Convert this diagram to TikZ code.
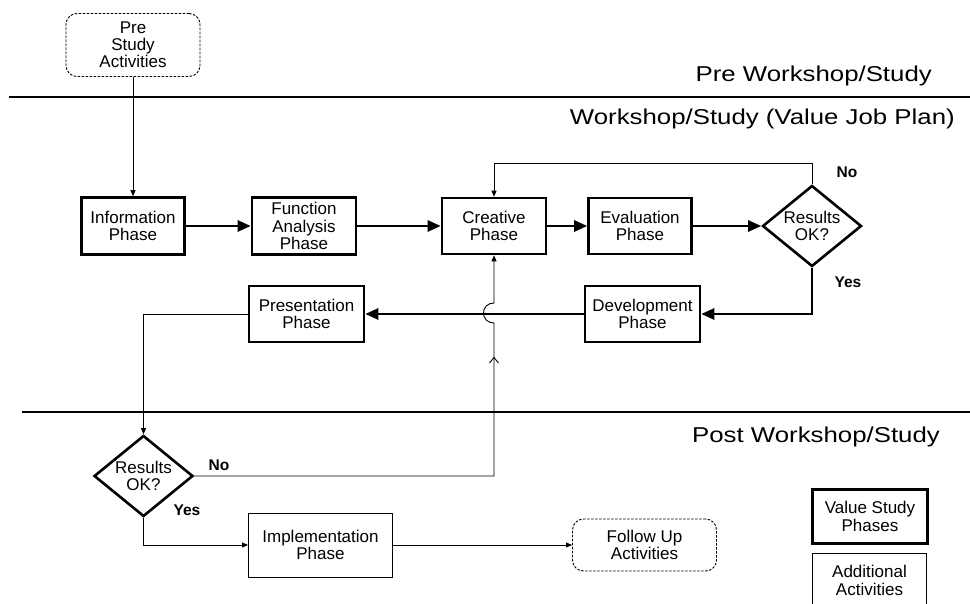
\documentclass[tikz,border=0pt]{standalone}
\usepackage{fontspec}
\setmainfont{Liberation Sans}
\usetikzlibrary{shapes.geometric,arrows.meta}
\begin{document}
\begin{tikzpicture}[x=1pt,y=-1pt,
  every node/.style={font=\fontsize{17}{17.2}\selectfont, align=center, inner sep=0pt},
  phasebox/.style={draw, line width=2.6pt},
  extrabox/.style={draw, line width=0.9pt},
  softbox/.style={draw, line width=0.9pt, dash pattern=on 2.5pt off 1.5pt, rounded corners=11pt},
  decision/.style={draw, line width=2.6pt, diamond, aspect=1.2, minimum width=99pt, minimum height=81pt},
  heading/.style={font=\fontsize{21.5}{26}\selectfont, anchor=base east, xscale=1.2, transform shape},
  answer/.style={font=\fontsize{15.5}{16}\selectfont\bfseries},
  divider/.style={line width=1.4pt},
  bigflow/.style={line width=2.6pt, -{Triangle[length=13pt,width=11pt]}},
  smallflow/.style={line width=0.9pt, -{Triangle[length=6pt,width=5pt]}}]
\useasboundingbox (0,0) rectangle (970,604);

% stage dividers and headings
\draw[divider] (9,97) -- (970,97);
\draw[divider] (22,412) -- (970,412);
\node[heading] (hpre)  at (932,82)  {Pre Workshop/Study};
\node[heading] (hwork) at (955,125) {Workshop/Study (Value Job Plan)};
\node[heading] (hpost) at (940,442) {Post Workshop/Study};

% pre-study
\node[softbox, minimum width=134pt, minimum height=63pt] (pre) at (133,45) {Pre\\Study\\Activities};

% job plan phases
\node[phasebox, minimum width=103pt, minimum height=57pt] (info) at (133,226) {Information\\Phase};
\node[phasebox, minimum width=104pt, minimum height=57pt] (func) at (304,226) {Function\\Analysis\\Phase};
\node[phasebox, minimum width=104pt, minimum height=56pt] (cre)  at (494,226) {Creative\\Phase};
\node[phasebox, minimum width=103pt, minimum height=56pt] (eval) at (640,226) {Evaluation\\Phase};
\node[decision] (d1) at (812,226) {Results\\OK?};
\node[phasebox, minimum width=115pt, minimum height=56pt] (dev)  at (642.5,314) {Development\\Phase};
\node[phasebox, minimum width=115pt, minimum height=56pt] (pres) at (306.5,314) {Presentation\\Phase};

% post-study
\node[decision] (d2) at (143.5,476) {Results\\OK?};
\node[extrabox, minimum width=144pt, minimum height=64pt] (impl) at (320.5,545) {Implementation\\Phase};
\node[softbox, minimum width=144pt, minimum height=52pt] (follow) at (644.5,545) {Follow Up\\Activities};

% key
\node[phasebox, minimum width=115pt, minimum height=54pt] (key1) at (870,516.5) {Value Study\\Phases};
\node[extrabox, minimum width=114pt, minimum height=54pt] (key2) at (869.5,580.5) {Additional\\Activities};

% decision labels
\node[answer] (no1)  at (847,172) {No};
\node[answer] (yes1) at (848,282) {Yes};
\node[answer] (no2)  at (219,465) {No};
\node[answer] (yes2) at (187,510) {Yes};

% flow
\draw[smallflow] (pre.south) -- (info.north);
\draw[bigflow] (info.east) -- (func.west);
\draw[bigflow] (func.east) -- (cre.west);
\draw[bigflow] (cre.east) -- (eval.west);
\draw[bigflow] (eval.east) -- (d1.west);
\draw[smallflow] (d1.north) -- ++(0,-21) -| (cre.north);
\draw[bigflow] (d1.south) |- (dev.east);
\draw[bigflow] (dev.west) -- (pres.east);
\draw[smallflow] (pres.west) -| (d2.north);
\draw[smallflow] (d2.east) -| (cre.south |- 0,323)
  .. controls (480,323) and (480,303) .. (cre.south |- 0,303) -- (cre.south);
\draw[line width=0.9pt] (489.5,363) -- (494,357.5) -- (498.5,363);
\draw[smallflow] (d2.south) |- (impl.west);
\draw[smallflow] (impl.east) -- (follow.west);
\end{tikzpicture}
\end{document}
